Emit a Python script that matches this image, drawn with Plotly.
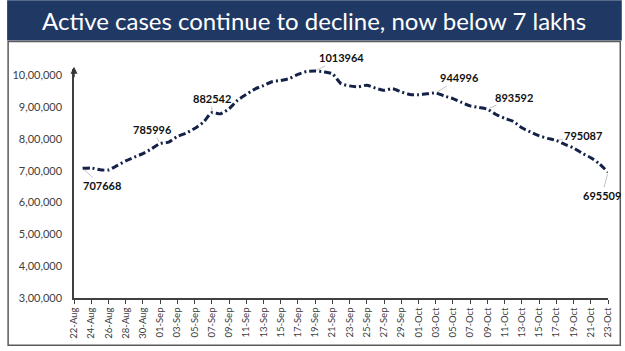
import plotly.graph_objects as go
import pandas as pd

# ---- data ----
start_date = "2020-08-23"
active_cases = [
    707668, 709000, 703000, 702500, 716000, 731000, 743000, 754000, 769000, 785996,
    790000, 808000, 818000, 833000, 852000, 882542, 879000, 895000, 922000, 940000,
    957000, 968000, 980000, 984000, 990000, 1003000, 1012000, 1013964, 1011000, 1005000,
    974000, 967000, 964000, 969000, 960000, 953000, 958000, 948000, 940000, 939000,
    942000, 944996, 935000, 927000, 915000, 904000, 899000, 893592, 877000, 865000,
    855000, 835000, 822000, 810000, 802000, 795087, 783000, 772000, 755000, 741000,
    722000, 695509,
]
dates = pd.date_range(start_date, periods=len(active_cases), freq="D")

y_tick_vals = [300000, 400000, 500000, 600000, 700000, 800000, 900000, 1000000]
y_tick_text = ["3,00,000", "4,00,000", "5,00,000", "6,00,000", "7,00,000",
               "8,00,000", "9,00,000", "10,00,000"]

# labelled points: (date, value, text offset x, text offset y)
label_dates = ["2020-08-23", "2020-09-01", "2020-09-07", "2020-09-19",
               "2020-10-03", "2020-10-09", "2020-10-17", "2020-10-23"]
label_values = [707668, 785996, 882542, 1013964, 944996, 893592, 795087, 695509]
label_ax = [19, -8, 0, 26, 24, 27, 27, -6]
label_ay = [17, -14, -14, -13, -15, -12, -5, 23]

title_text = "Active cases continue to decline, now below 7 lakhs"

# ---- figure ----
W, H = 625, 351
ml, mr, mt, mb = 68, 14, 69, 52
pw, ph = W - ml - mr, H - mt - mb

def px_x(p):
    return (p - ml) / pw

def px_y(p):
    return (H - mb - p) / ph

fig = go.Figure()
fig.add_trace(go.Scatter(
    x=dates, y=active_cases, mode="lines",
    line=dict(color="#14224a", width=3, dash="7px,3px,2px,3px", shape="spline", smoothing=0.6),
    hoverinfo="skip",
))

annotations = []
for d, v, ax, ay in zip(label_dates, label_values, label_ax, label_ay):
    annotations.append(dict(
        x=d, y=v, xref="x", yref="y", text=f"<b>{v}</b>",
        showarrow=True, arrowhead=0, arrowwidth=0.7, arrowcolor="#a6a6a6",
        ax=ax, ay=ay, standoff=2,
        font=dict(family="Lato, sans-serif", size=11, color="#111111"),
    ))

# arrow on top of y axis
annotations.append(dict(
    x=0, y=1.01, xref="paper", yref="paper", text="", showarrow=True,
    arrowhead=2, arrowsize=1, arrowwidth=1.4, arrowcolor="#333333", ax=0, ay=12,
))

# title
annotations.append(dict(
    x=px_x(W / 2), y=px_y(20), xref="paper", yref="paper", text=title_text,
    showarrow=False, xanchor="center", yanchor="middle",
    font=dict(family="Lato, sans-serif", size=24, color="white"),
))

shapes = [
    dict(type="rect", xref="paper", yref="paper",
         x0=px_x(0), x1=px_x(W), y0=px_y(0), y1=px_y(40.5),
         fillcolor="#203864", line=dict(width=0), layer="below"),
    dict(type="rect", xref="paper", yref="paper",
         x0=px_x(1), x1=px_x(623.5), y0=px_y(41.5), y1=px_y(346.5),
         fillcolor="rgba(0,0,0,0)", line=dict(color="#5a5a5a", width=1.5), layer="below"),
]

fig.update_layout(
    width=W, height=H,
    margin=dict(l=ml, r=mr, t=mt, b=mb),
    paper_bgcolor="white", plot_bgcolor="white",
    showlegend=False,
    annotations=annotations,
    shapes=shapes,
    xaxis=dict(
        type="date", range=["2020-08-22", "2020-10-23"],
        tick0="2020-08-22", dtick=2 * 86400000, tickformat="%d-%b",
        tickangle=-90, ticks="outside", ticklen=4, tickcolor="#404040",
        showline=True, linecolor="#404040", linewidth=1.5,
        showgrid=False, zeroline=False,
        tickfont=dict(family="Lato, sans-serif", size=9.5, color="#404040"),
    ),
    yaxis=dict(
        range=[300000, 1020000],
        tickvals=y_tick_vals, ticktext=y_tick_text,
        ticks="", ticklabelstandoff=8,
        showline=True, linecolor="#404040", linewidth=1.5,
        showgrid=False, zeroline=False,
        tickfont=dict(family="Lato, sans-serif", size=11, color="#404040"),
    ),
)

fig.write_html("out.html")
